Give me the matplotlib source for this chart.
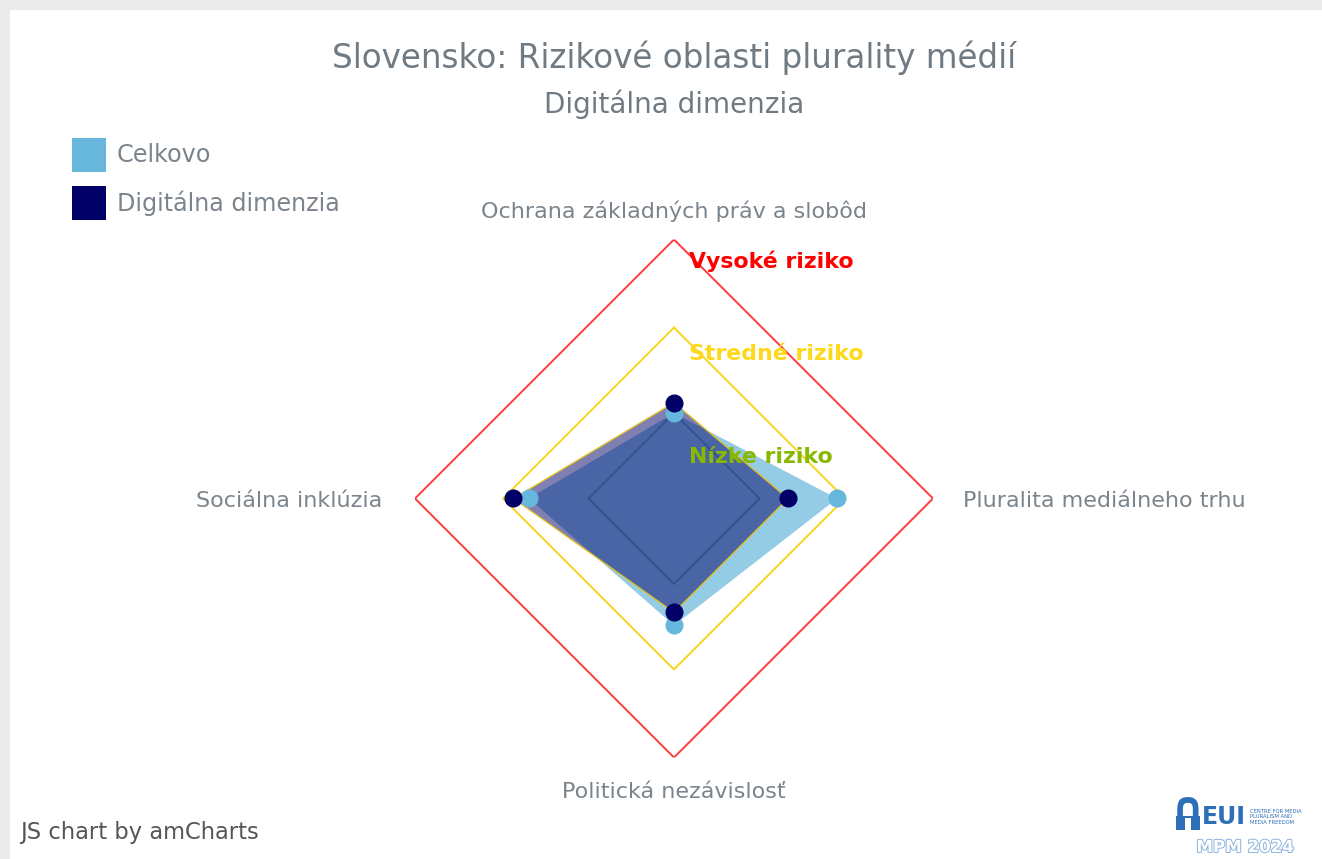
import numpy as np
import matplotlib
matplotlib.use("Agg")
import matplotlib.pyplot as plt
import matplotlib.patheffects as pe
from matplotlib.patches import Rectangle, Wedge

# ---- data ----
categories = ["Ochrana základných práv a slobôd", "Pluralita mediálneho trhu",
              "Politická nezávislosť", "Sociálna inklúzia"]
celkovo = [33, 63, 49, 56]
digitalna = [37, 44, 44, 62]
risk_levels = [33, 66, 100]
risk_labels = ["Nízke riziko", "Stredné riziko", "Vysoké riziko"]
risk_colors = ["#88b800", "#f7d51d", "#ff3b3b"]
series_names = ["Celkovo", "Digitálna dimenzia"]
series_colors = ["#67b7dc", "#000066"]

W, H = 1322, 859
fig = plt.figure(figsize=(W / 100, H / 100), dpi=100, facecolor="#ebebeb")
fig.patches.append(Rectangle((10 / W, 0), 1 - 10 / W, 1 - 10 / H, transform=fig.transFigure,
                             facecolor="white", edgecolor="none", zorder=-5))

def px(x, y):
    return x / W, 1 - y / H

cx, cy, R = 674, 498.5, 259
ax = fig.add_axes([(cx - R) / W, (H - cy - R) / H, 2 * R / W, 2 * R / H], projection="polar")
ax.set_zorder(1)
ax.set_facecolor("none")
ax.set_theta_offset(np.pi / 2)
ax.set_theta_direction(-1)
ax.set_ylim(0, 100)
ax.grid(False)
ax.set_xticks([])
ax.set_yticks([])
ax.spines["polar"].set_visible(False)

n = len(categories)
theta = np.arange(n) * 2 * np.pi / n
tc = np.append(theta, theta[0])

grid_colors = ["#5a7a6a", risk_colors[1], risk_colors[2]]
for lvl, col in zip(risk_levels, grid_colors):
    ax.plot(tc, [lvl] * (n + 1), color=col, lw=1.4, zorder=1)

c1 = np.append(celkovo, celkovo[0])
c2 = np.append(digitalna, digitalna[0])
ax.fill(tc, c1, color=series_colors[0], alpha=0.7, lw=0, zorder=2)
ax.fill(tc, c2, facecolor=series_colors[1], alpha=0.5, edgecolor="none", zorder=3)
ax.plot(tc, c2, color="#e8c51a", lw=1.0, alpha=0.9, zorder=3)
ax.plot(theta, celkovo, "o", color=series_colors[0], ms=12, zorder=4)
ax.plot(theta, digitalna, "o", color=series_colors[1], ms=12, zorder=5)

# axis labels
lab_col = "#7b848c"
fs_lab = 16
fig.text(*px(674, 211), categories[0], ha="center", va="center", fontsize=fs_lab, color=lab_col)
fig.text(*px(963, 501), categories[1], ha="left", va="center", fontsize=fs_lab, color=lab_col)
fig.text(*px(674, 792), categories[2], ha="center", va="center", fontsize=fs_lab, color=lab_col)
fig.text(*px(382, 501), categories[3], ha="right", va="center", fontsize=fs_lab, color=lab_col)

# risk labels
text_cols = ["#88b800", "#ffd81a", "#ff0000"]
for lab, col, y in zip(risk_labels, text_cols, [457, 354, 261]):
    fig.text(*px(689, y), lab, ha="left", va="center", fontsize=15.8, fontweight="bold", color=col)

# titles
tcol = "#6f7a83"
fig.text(*px(674, 58), "Slovensko: Rizikové oblasti plurality médií", ha="center", va="center",
         fontsize=23.5, color=tcol)
fig.text(*px(674, 104), "Digitálna dimenzia", ha="center", va="center", fontsize=20, color=tcol)

# legend
for i, (name, col) in enumerate(zip(series_names, series_colors)):
    y = 155 + i * 48
    fig.patches.append(Rectangle(px(72, y + 17), 34 / W, 34 / H, transform=fig.transFigure,
                                 facecolor=col, edgecolor="none"))
    fig.text(*px(117, y), name, ha="left", va="center", fontsize=17.2, color=lab_col)

# footer
fig.text(*px(20, 833), "JS chart by amCharts", ha="left", va="center", fontsize=16.3, color="#555555")

# EUI logo
blue = "#2d6fb8"
fig.patches.append(Rectangle(px(1176, 830), 24 / W, 14 / H, transform=fig.transFigure,
                             facecolor=blue, edgecolor="none"))
fig.patches.append(Rectangle(px(1185, 830), 6 / W, 12 / H, transform=fig.transFigure,
                             facecolor="white", edgecolor="none"))
fig.text(*px(1188, 809), "\u2229", ha="center", va="center", fontsize=30, fontweight="bold",
         color=blue)
fig.text(*px(1202, 817), "EUI", ha="left", va="center", fontsize=17, fontweight="bold", color=blue)
fig.text(*px(1250, 817), "CENTRE FOR MEDIA\nPLURALISM AND\nMEDIA FREEDOM", ha="left", va="center",
         fontsize=3.8, color=blue, linespacing=1.1)
fig.text(*px(1245, 847), "MPM 2024", ha="center", va="center", fontsize=12, color="white",
         fontweight="bold", path_effects=[pe.withStroke(linewidth=1.4, foreground="#8bb3e0")])

fig.savefig("out.png", dpi=100, facecolor=fig.get_facecolor())
